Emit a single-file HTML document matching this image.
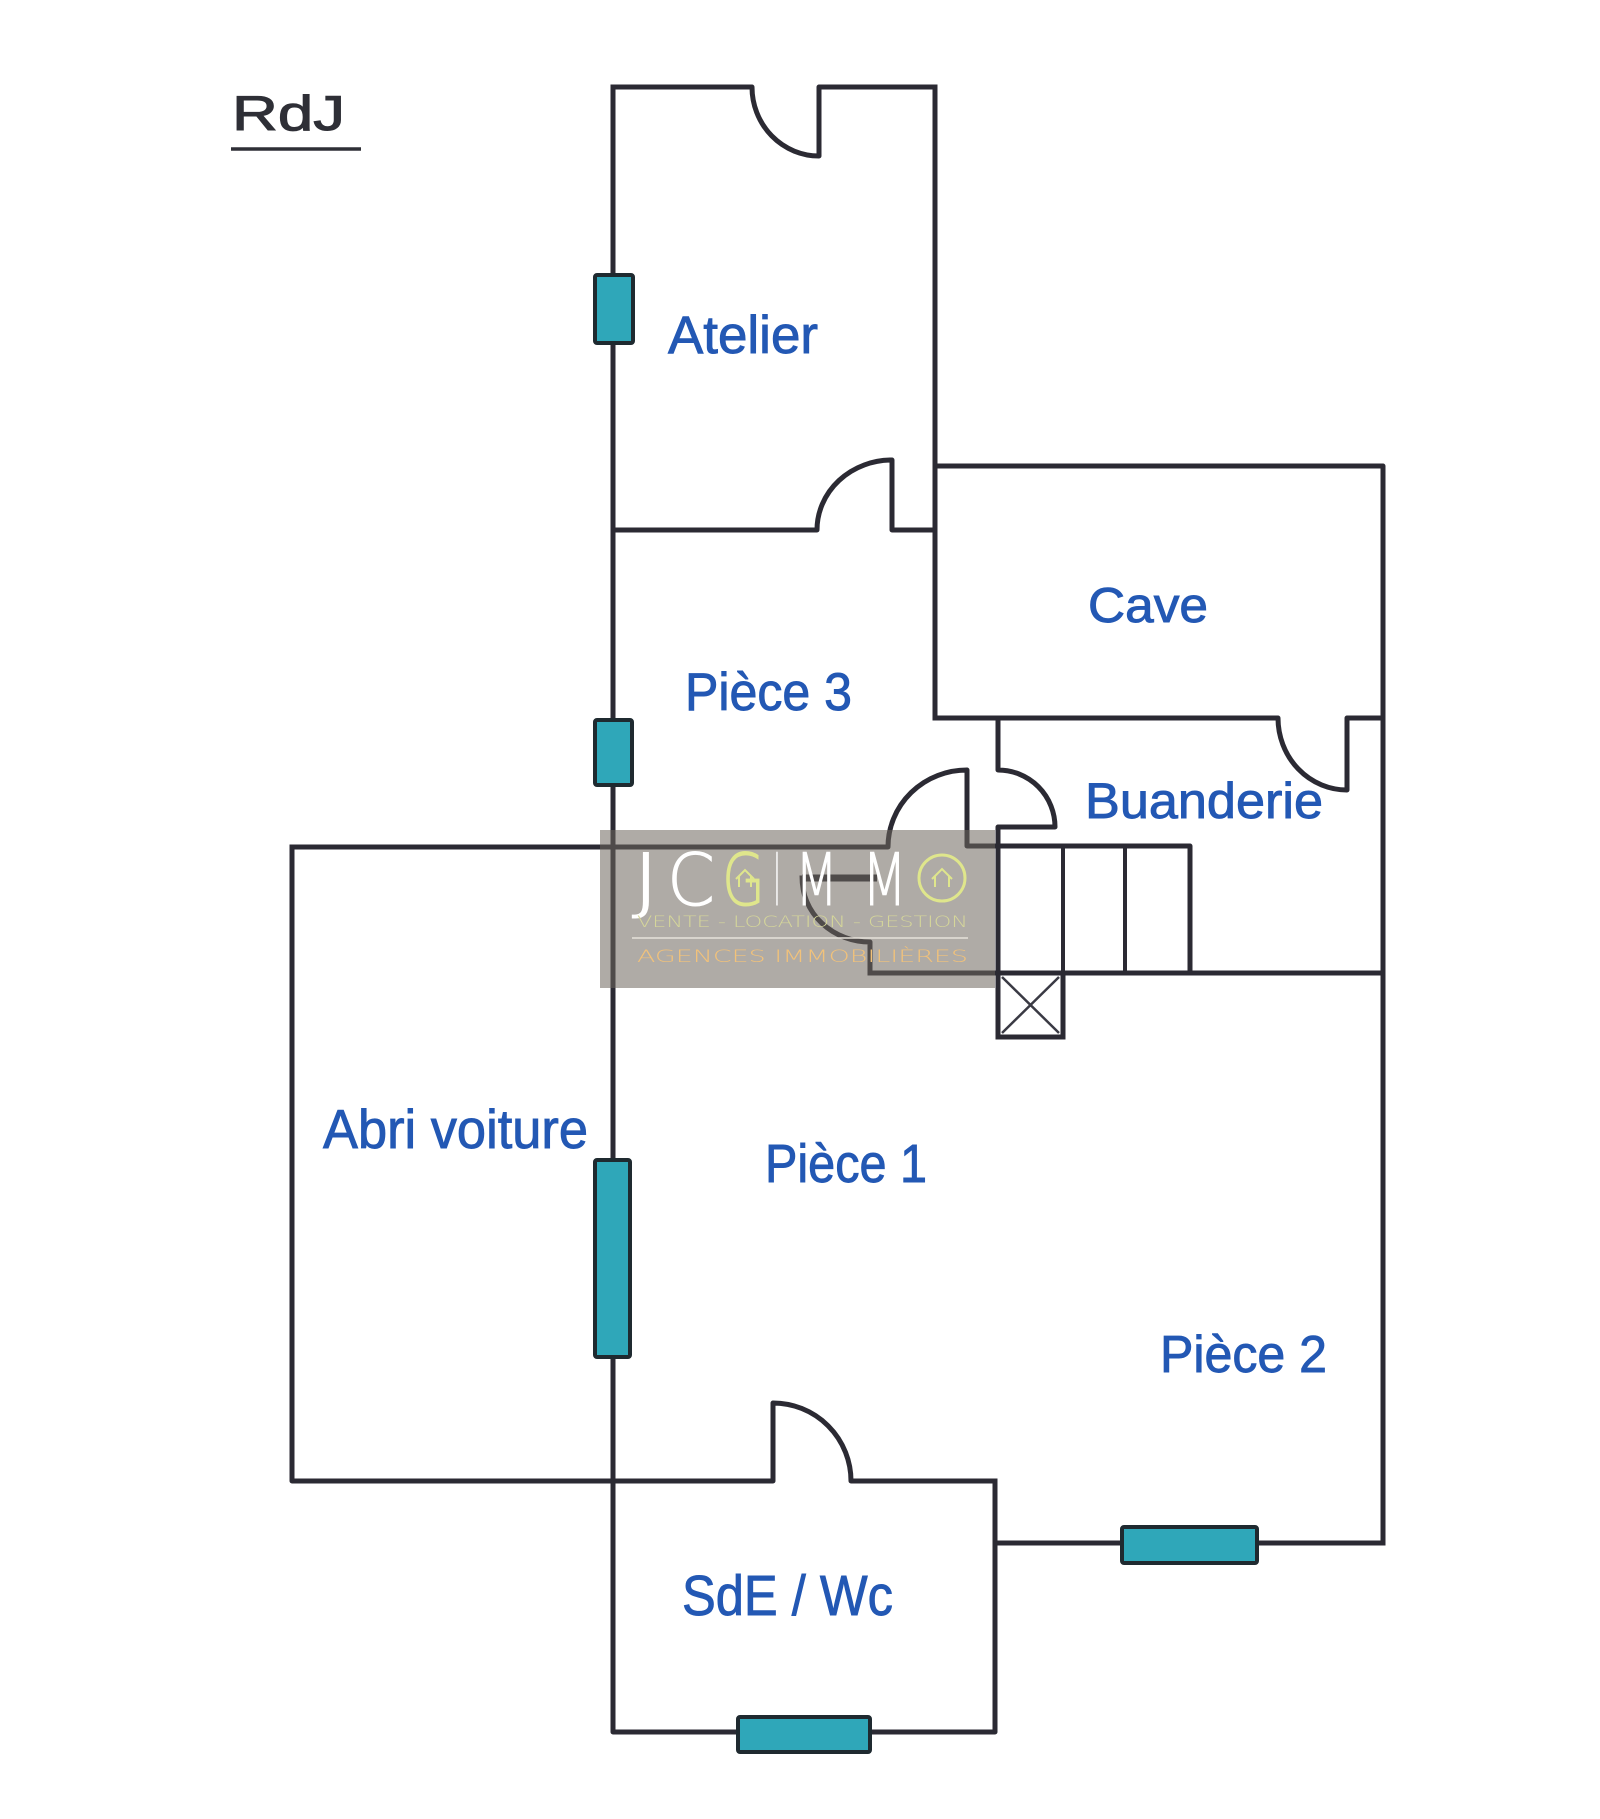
<!DOCTYPE html>
<html>
<head>
<meta charset="utf-8">
<style>
  html, body { margin: 0; padding: 0; background: #ffffff; }
  svg { display: block; }
</style>
</head>
<body>
<svg width="1600" height="1819" viewBox="0 0 1600 1819" xmlns="http://www.w3.org/2000/svg">
  <rect x="0" y="0" width="1600" height="1819" fill="#ffffff"/>

  <!-- Title -->
  <text x="232" y="130" font-family="Liberation Sans, Arial, sans-serif" font-size="49" fill="#2e2f36" stroke="#2e2f36" stroke-width="1" textLength="113" lengthAdjust="spacingAndGlyphs">RdJ</text>
  <line x1="231" y1="149" x2="361" y2="149" stroke="#2e2f36" stroke-width="3.5"/>

  <g fill="none" stroke="#2b2a33" stroke-width="5" stroke-linejoin="round" stroke-linecap="square">
    <!-- Atelier top wall with door -->
    <path d="M613,87 H752 A67,69 0 0 0 819,156 V87 H935"/>
    <!-- Atelier / Pièce 3 right wall -->
    <path d="M935,87 V718"/>
    <!-- Atelier bottom wall with door -->
    <path d="M613,530 H817 A75,70 0 0 1 892,460 V530 H935"/>
    <!-- Cave -->
    <path d="M935,466 H1383 V1543"/>
    <path d="M935,718 H1278 A69,72 0 0 0 1347,790 V718 H1383"/>
    <!-- Buanderie left wall with door -->
    <path d="M998,718 V770 A57,57 0 0 1 1055,827 H998 V1037"/>
    <!-- Abri top wall + Pièce 3 door + stairs top -->
    <path d="M292,847 H888 A79,77 0 0 1 967,770 V846 H1190 V973"/>
    <!-- Pièce 1 top wall -->
    <path d="M870,973 H1383"/>
    <!-- door behind watermark -->
    <path d="M802,878 A68,64 0 0 0 870,942 V973"/>
    <!-- main divider wall, SdE -->
    <path d="M613,87 V1732 H995 V1481"/>
    <!-- Abri voiture -->
    <path d="M292,847 V1481 H773 V1403 A78,78 0 0 1 851,1481 H995"/>
    <!-- Pièce 2 bottom wall -->
    <path d="M995,1543 H1383"/>
  </g>
  <!-- thick bar behind watermark -->
  <line x1="802" y1="878" x2="877" y2="878" stroke="#2b2a33" stroke-width="7"/>

  <!-- stairs -->
  <g stroke="#2b2a33" stroke-width="4">
    <line x1="1063" y1="846" x2="1063" y2="973"/>
    <line x1="1125" y1="846" x2="1125" y2="973"/>
  </g>
  <!-- X box -->
  <rect x="998" y="973" width="65" height="64" fill="none" stroke="#2b2a33" stroke-width="5"/>
  <g stroke="#3a3a44" stroke-width="2.5">
    <line x1="1002" y1="977" x2="1059" y2="1033"/>
    <line x1="1059" y1="977" x2="1002" y2="1033"/>
  </g>

  <!-- Windows -->
  <g fill="#2fa7b9" stroke="#1f2a30" stroke-width="4">
    <rect x="595" y="275" width="38" height="68" rx="2"/>
    <rect x="595" y="720" width="37" height="65" rx="2"/>
    <rect x="595" y="1160" width="35" height="197" rx="2"/>
    <rect x="738" y="1717" width="132" height="35" rx="2"/>
    <rect x="1122" y="1527" width="135" height="36" rx="2"/>
  </g>

  <!-- Room labels -->
  <g font-family="Liberation Sans, Arial, sans-serif" fill="#2358b4" stroke="#2358b4" stroke-width="0.9">
    <text x="668" y="353" font-size="53" textLength="150" lengthAdjust="spacingAndGlyphs">Atelier</text>
    <text x="1088" y="622" font-size="49" textLength="120" lengthAdjust="spacingAndGlyphs">Cave</text>
    <text x="685" y="710" font-size="53" textLength="167" lengthAdjust="spacingAndGlyphs">Pièce 3</text>
    <text x="1085" y="818" font-size="50" textLength="238" lengthAdjust="spacingAndGlyphs">Buanderie</text>
    <text x="323" y="1148" font-size="55" textLength="265" lengthAdjust="spacingAndGlyphs">Abri voiture</text>
    <text x="765" y="1182" font-size="54" textLength="162" lengthAdjust="spacingAndGlyphs">Pièce 1</text>
    <text x="1160" y="1372" font-size="52" textLength="167" lengthAdjust="spacingAndGlyphs">Pièce 2</text>
    <text x="682" y="1615" font-size="57" textLength="211" lengthAdjust="spacingAndGlyphs">SdE / Wc</text>
  </g>

  <!-- Watermark -->
  <rect x="600" y="830" width="395" height="158" fill="rgba(110,102,93,0.55)"/>
  <g font-family="DejaVu Sans, Liberation Sans, sans-serif" font-weight="200" font-size="72" stroke-width="1">
    <text x="632" y="905" fill="#ffffff" stroke="#ffffff" textLength="28" lengthAdjust="spacingAndGlyphs">J</text>
    <text x="667" y="905" fill="#ffffff" stroke="#ffffff" textLength="48" lengthAdjust="spacingAndGlyphs">C</text>
    <text x="722" y="905" fill="#dfe68c" stroke="#dfe68c" textLength="43" lengthAdjust="spacingAndGlyphs">G</text>
    <text x="774" y="905" fill="#ffffff" stroke="#ffffff" textLength="6" lengthAdjust="spacingAndGlyphs">I</text>
    <text x="795" y="905" fill="#ffffff" stroke="#ffffff" textLength="43" lengthAdjust="spacingAndGlyphs">M</text>
    <text x="862" y="905" fill="#ffffff" stroke="#ffffff" textLength="45" lengthAdjust="spacingAndGlyphs">M</text>
  </g>
  <!-- O circle with house -->
  <circle cx="942" cy="878" r="23" fill="none" stroke="#dfe68c" stroke-width="3"/>
  <path d="M932,879 L942,869 L952,879 M935,876 V887 M949,876 V887" fill="none" stroke="#dfe68c" stroke-width="2"/>
  <!-- house in G -->
  <path d="M736,879 L745,870 L754,879 M739,876 V887 M751,876 V887" fill="none" stroke="#dfe68c" stroke-width="2"/>
  <g font-family="DejaVu Sans, Liberation Sans, sans-serif" font-weight="200" font-size="16">
    <text x="637" y="927" fill="#d5d69a" textLength="331" lengthAdjust="spacingAndGlyphs">VENTE  -  LOCATION  -  GESTION</text>
    <text x="637" y="962" fill="#f2c27a" font-size="17" textLength="331" lengthAdjust="spacingAndGlyphs">AGENCES IMMOBILIÈRES</text>
  </g>
  <line x1="632" y1="938" x2="968" y2="938" stroke="#e6e1da" stroke-width="1.5"/>
</svg>
</body>
</html>
